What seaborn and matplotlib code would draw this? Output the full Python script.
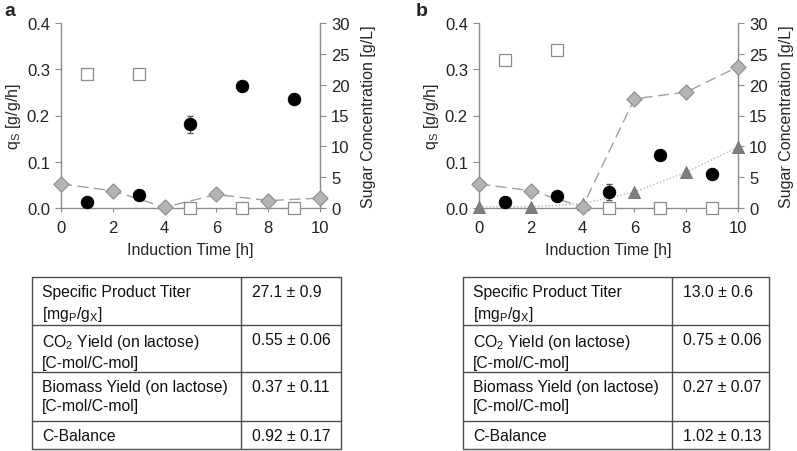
import numpy as np
import pandas as pd
import matplotlib
matplotlib.use("Agg")
import matplotlib.pyplot as plt
import seaborn as sns

sns.set_style("white")
plt.rcParams["font.family"] = ["Liberation Sans", "DejaVu Sans"]
plt.rcParams["mathtext.fontset"] = "custom"
plt.rcParams["mathtext.rm"] = "Liberation Sans"

# qs (circles, left axis) at odd hours
qs_time = [1, 3, 5, 7, 9]
qs_a = [0.013, 0.028, 0.181, 0.264, 0.235]
qs_a_err = [0, 0, 0.018, 0, 0]
qs_b = [0.012, 0.025, 0.035, 0.114, 0.074]
qs_b_err = [0, 0, 0.017, 0, 0]

# open squares (right axis) at odd hours
sq_a = [21.8, 21.7, 0.0, 0.0, 0.0]
sq_b = [24.0, 25.7, 0.0, 0.0, 0.0]

# diamonds and triangles (right axis) at even hours
even_time = [0, 2, 4, 6, 8, 10]
dia_a = [3.9, 2.8, 0.1, 2.2, 1.2, 1.6]
dia_b = [3.9, 2.8, 0.2, 17.7, 18.8, 22.9]
tri_b = [0.2, 0.2, 0.7, 2.6, 5.8, 9.9]

table_rows = [
    "Specific Product Titer\n[mg$_\\mathregular{P}$/g$_\\mathregular{X}$]",
    "CO$_\\mathregular{2}$ Yield (on lactose)\n[C-mol/C-mol]",
    "Biomass Yield (on lactose)\n[C-mol/C-mol]",
    "C-Balance",
]
table_a = ["27.1 \u00b1 0.9", "0.55 \u00b1 0.06", "0.37 \u00b1 0.11", "0.92 \u00b1 0.17"]
table_b = ["13.0 \u00b1 0.6", "0.75 \u00b1 0.06", "0.27 \u00b1 0.07", "1.02 \u00b1 0.13"]

W, H = 797, 452
fig = plt.figure(figsize=(W / 100, H / 100), dpi=100)

spine_c = "#8c8c8c"
fs_tick = 12
fs_lab = 11.5
fs_tab = 11.3


def panel(left_px, qs, qs_err, sq, dia, tri, label, label_x):
    ax = fig.add_axes([left_px / W, 1 - 209 / H, 259 / W, 185 / H])
    ax2 = ax.twinx()
    for a in (ax, ax2):
        a.set_xlim(0, 10)
        for s in a.spines.values():
            s.set_color(spine_c)
            s.set_linewidth(1.0)
        a.spines["top"].set_visible(False)
        a.tick_params(colors="#222222", labelsize=fs_tick, length=4, width=0.8,
                      color=spine_c, direction="out", pad=4)
    ax.spines["right"].set_visible(False)
    ax2.spines["left"].set_visible(False)
    ax2.spines["bottom"].set_visible(False)
    ax.set_ylim(0, 0.4)
    ax.set_yticks([0, 0.1, 0.2, 0.3, 0.4])
    ax.set_yticklabels(["0.0", "0.1", "0.2", "0.3", "0.4"])
    ax2.set_ylim(0, 30)
    ax2.set_yticks([0, 5, 10, 15, 20, 25, 30])
    ax.set_xticks([0, 2, 4, 6, 8, 10])
    ax.tick_params(axis="y", left=True, right=False)
    ax.tick_params(axis="x", bottom=True, length=3, pad=6)
    ax2.tick_params(axis="y", right=True, left=False)

    ax.set_ylabel("q$_\\mathregular{S}$ [g/g/h]", fontsize=fs_lab, labelpad=3)
    ax.set_xlabel("Induction Time [h]", fontsize=fs_lab, labelpad=5)

    df_e = pd.DataFrame({"t": even_time, "dia": dia})
    sns.lineplot(data=df_e, x="t", y="dia", ax=ax2, color="#a0a0a0",
                 linewidth=1.0, linestyle=(0, (8, 4)), zorder=3)
    if tri is not None:
        df_e["tri"] = tri
        sns.lineplot(data=df_e, x="t", y="tri", ax=ax2, color="#b5b5b5",
                     linewidth=1.0, linestyle=(0, (1, 1.5)), zorder=3)
        sns.scatterplot(data=df_e, x="t", y="tri", ax=ax2, marker="^", s=75,
                        color="#7f7f7f", edgecolor="#6f6f6f", linewidth=0.6,
                        clip_on=False, zorder=5)
    sns.scatterplot(data=df_e, x="t", y="dia", ax=ax2, marker="D", s=60,
                    color="#b4b4b4", edgecolor="#8c8c8c", linewidth=0.8,
                    clip_on=False, zorder=6)

    df_o = pd.DataFrame({"t": qs_time, "sq": sq})
    sns.scatterplot(data=df_o, x="t", y="sq", ax=ax2, marker="s", s=65,
                    facecolor="white", edgecolor="#8c8c8c", linewidth=0.9,
                    clip_on=False, zorder=6)

    # qs on the left scale, drawn via the twin so it sits on top
    scale = 30 / 0.4
    df_q = pd.DataFrame({"t": qs_time, "q": np.array(qs) * scale,
                         "e": np.array(qs_err) * scale})
    ax2.errorbar(df_q["t"], df_q["q"], yerr=df_q["e"], fmt="none",
                 ecolor="#555555", elinewidth=0.8, capsize=2.5, zorder=6)
    sns.scatterplot(data=df_q, x="t", y="q", ax=ax2, marker="o", s=80,
                    color="black", edgecolor="black", clip_on=False, zorder=7)
    ax2.set_xlabel("")
    ax2.set_ylabel("Sugar Concentration [g/L]", fontsize=fs_lab, labelpad=8)

    fig.text(label_x / W, 1 - 11 / H, label, fontsize=14, fontweight="bold",
             ha="left", va="center")


def table(left_px, right_px, div_px, values):
    tax = fig.add_axes([left_px / W, 1 - 450 / H, (right_px - left_px) / W, 172 / H])
    tax.set_xlim(left_px, right_px)
    tax.set_ylim(450, 278)
    tax.axis("off")
    lines = [278, 326, 373, 422, 450]
    lc = "#4d4d4d"
    for y in lines:
        tax.plot([left_px, right_px], [y, y], color=lc, lw=1.0, clip_on=False)
    for x in (left_px, div_px, right_px):
        tax.plot([x, x], [278, 450], color=lc, lw=1.0, clip_on=False)
    for i, (name, val) in enumerate(zip(table_rows, values)):
        top = lines[i]
        tax.text(left_px + 10, top + 7, name, fontsize=fs_tab, va="top", ha="left",
                 linespacing=1.35, color="#111111")
        tax.text(div_px + 11, top + 7, val, fontsize=fs_tab, va="top", ha="left",
                 color="#111111")


panel(61, qs_a, qs_a_err, sq_a, dia_a, None, "a", 4)
panel(479, qs_b, qs_b_err, sq_b, dia_b, tri_b, "b", 416)
table(32, 341, 241, table_a)
table(463, 769, 672, table_b)

fig.savefig("out.png", dpi=100)
